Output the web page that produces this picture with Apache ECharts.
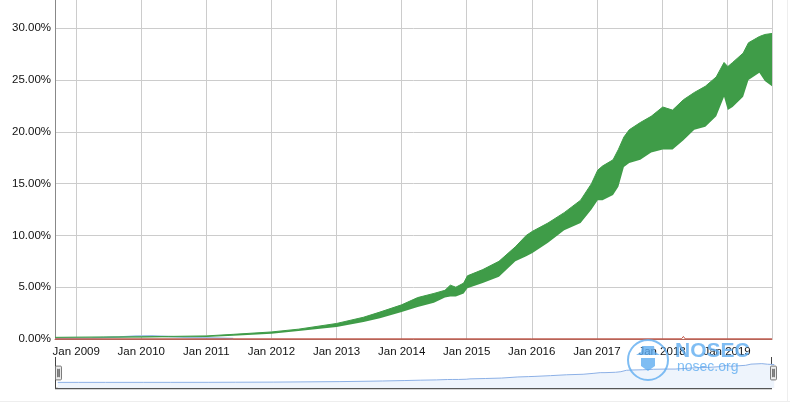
<!DOCTYPE html>
<html>
<head>
<meta charset="utf-8">
<script src="https://cdn.jsdelivr.net/npm/echarts@6/dist/echarts.min.js"></script>
<style>
html,body{margin:0;padding:0;background:#fff;}
#chart{width:790px;height:405px;}
</style>
</head>
<body>
<div id="chart"></div>
<script>
// Native IPv6 adoption band (percent)
const dates = ['2008-09-04','2009-01-01','2009-06-01','2010-01-01','2010-06-01','2011-01-01','2011-06-01','2012-01-01','2012-06-01','2013-01-01','2013-06-01','2013-09-01','2014-01-01','2014-04-01','2014-07-01','2014-09-01','2014-10-01','2014-11-01','2014-12-15','2015-01-05','2015-04-01','2015-07-01','2015-10-01','2015-12-01','2016-01-05','2016-04-01','2016-07-01','2016-10-01','2016-12-01','2017-01-05','2017-02-01','2017-04-01','2017-05-01','2017-06-01','2017-07-01','2017-09-01','2017-11-01','2018-01-05','2018-03-01','2018-05-01','2018-07-01','2018-09-01','2018-11-01','2018-12-15','2019-01-05','2019-02-01','2019-04-01','2019-05-01','2019-07-01','2019-08-01','2019-09-10'];
const nativeLow = [0.12,0.13,0.14,0.15,0.16,0.2,0.32,0.5,0.78,1.15,1.65,2.0,2.6,3.1,3.5,4.0,4.1,4.1,4.4,4.9,5.4,6.0,7.5,8.0,8.3,9.3,10.5,11.2,12.5,13.4,13.4,13.9,14.7,16.6,17.0,17.3,18.0,18.3,18.3,19.2,20.2,20.5,21.5,23.4,22.1,22.4,23.4,25.0,25.7,24.9,24.4];
const nativeHigh = [0.16,0.18,0.2,0.22,0.25,0.3,0.45,0.68,0.95,1.5,2.1,2.6,3.3,4.0,4.4,4.7,5.2,5.0,5.4,6.1,6.7,7.5,8.9,10.0,10.4,11.2,12.2,13.4,15.0,16.3,16.7,17.3,18.3,19.5,20.2,20.9,21.5,22.4,22.1,23.1,23.8,24.4,25.3,26.7,26.3,26.7,27.6,28.6,29.2,29.4,29.5];

// Blue (tunnelled) series
const blueDates = ['2008-09-04','2009-04-01','2009-09-01','2009-12-01','2010-03-01','2010-06-01','2010-10-01','2011-03-01','2011-06-01'];
const blueValues = [0.08,0.1,0.2,0.3,0.32,0.25,0.15,0.1,0.05];

// Red series
const redDates = ['2008-09-04','2012-01-01','2016-01-01','2018-04-20','2018-05-01','2018-05-10','2019-09-10'];
const redValues = [0.02,0.02,0.02,0.02,0.25,0.02,0.02];

const yTicks = [0,5,10,15,20,25,30];

const lowData = dates.map((d,i)=>[d, nativeLow[i]]);
const bandData = dates.map((d,i)=>[d, +(nativeHigh[i]-nativeLow[i]).toFixed(2)]);
const blueData = blueDates.map((d,i)=>[d, blueValues[i]]);
const redData = redDates.map((d,i)=>[d, redValues[i]]);

const GREEN = '#3f9c48';
const FONT = 'Liberation Sans, Arial, Helvetica, sans-serif';
const WM = 'rgba(95,172,240,0.8)';

const chart = echarts.init(document.getElementById('chart'), null, {renderer:'canvas'});
chart.setOption({
  animation:false,
  backgroundColor:'#ffffff',
  grid:{left:55,right:18,top:0,height:339,containLabel:false},
  xAxis:{
    type:'time',
    min:'2008-09-04',
    max:'2019-09-10',
    minInterval:365*24*3600*1000,
    maxInterval:366*24*3600*1000,
    axisLine:{show:true,lineStyle:{color:'#b4675b',width:1}},
    axisTick:{show:false},
    splitLine:{show:true,lineStyle:{color:'#cccccc',width:1}},
    axisLabel:{
      color:'#111',fontSize:11.5,fontFamily:FONT,margin:7,
      hideOverlap:false,
      formatter:function(v){const d=new Date(v);return d.getMonth()===0?('Jan '+d.getFullYear()):'';},
      rich:{}
    }
  },
  yAxis:{
    type:'value',
    min:0,max:32.73,interval:5,
    axisLine:{show:true,lineStyle:{color:'#888',width:1}},
    axisTick:{show:false},
    splitLine:{show:true,showMaxLine:false,lineStyle:{color:'#cccccc',width:1}},
    axisLabel:{color:'#111',fontSize:11.5,fontFamily:FONT,margin:4,showMaxLabel:false,
      formatter:function(v){return yTicks.indexOf(v)>=0 ? v.toFixed(2)+'%' : '';}}
  },
  dataZoom:[{
    type:'slider',xAxisIndex:0,filterMode:'none',
    left:55,right:18,top:358,height:30,
    start:0,end:100,
    borderColor:'transparent',backgroundColor:'transparent',
    fillerColor:'rgba(0,0,0,0)',
    showDetail:false,brushSelect:false,moveHandleSize:0,
    handleIcon:'path://M1,0 H5 Q6,0 6,1 V13 Q6,14 5,14 H1 Q0,14 0,13 V1 Q0,0 1,0 Z M2,3 H2.6 V11 H2 Z M3.4,3 H4 V11 H3.4 Z',
    handleSize:'46%',
    handleStyle:{color:'#eeeeee',borderColor:'#777',borderWidth:1},
    emphasis:{handleStyle:{color:'#eeeeee',borderColor:'#777'}},
    dataBackground:{lineStyle:{color:'#8cb0e6',width:1,opacity:1},areaStyle:{color:'#eef4fc',opacity:1}},
    selectedDataBackground:{lineStyle:{color:'#8cb0e6',width:1,opacity:1},areaStyle:{color:'#eef4fc',opacity:1}}
  }],
  series:[
    {name:'low',type:'line',stack:'native',data:lowData,symbol:'none',
     lineStyle:{width:0,opacity:0},silent:true,z:3},
    {name:'Native',type:'line',stack:'native',data:bandData,symbol:'none',
     lineStyle:{color:GREEN,width:1},areaStyle:{color:GREEN,opacity:1},z:3},
    {name:'Blue',type:'line',data:blueData,symbol:'none',lineStyle:{color:'#9dbde8',width:1.5},z:2},
    {name:'Red',type:'line',data:redData,symbol:'none',lineStyle:{color:'#c0584c',width:1},z:4}
  ],
  graphic:[
    {type:'line',shape:{x1:55.5,y1:357,x2:55.5,y2:388},style:{stroke:'#444',lineWidth:1},silent:true},
    {type:'line',shape:{x1:771.5,y1:357,x2:771.5,y2:388},style:{stroke:'#444',lineWidth:1},silent:true},
    {type:'line',shape:{x1:55,y1:388.5,x2:772,y2:388.5},style:{stroke:'#555',lineWidth:1.5},silent:true},
    {type:'line',shape:{x1:0,y1:401.5,x2:790,y2:401.5},style:{stroke:'#eeeeee',lineWidth:1},silent:true},
    {type:'line',shape:{x1:787.5,y1:0,x2:787.5,y2:402},style:{stroke:'#eeeeee',lineWidth:1},silent:true},
    {type:'circle',shape:{cx:648,cy:360,r:20},style:{fill:'rgba(255,255,255,0)',stroke:WM,lineWidth:2},silent:true,z:100},
    {type:'polygon',shape:{points:[[636,355],[660,355],[655,352],[654,346],[642,346],[641,352]]},style:{fill:WM},silent:true,z:100},
    {type:'polygon',shape:{points:[[641,358],[655,358],[655,366],[648,371],[641,366]]},style:{fill:WM},silent:true,z:100},
    {type:'text',left:675,top:341,style:{text:'NOSEC',fill:WM,font:'bold 21px '+FONT},silent:true,z:100},
    {type:'text',left:677,top:360,style:{text:'nosec.org',fill:WM,font:'14px '+FONT},silent:true,z:100}
  ]
});
</script>
</body>
</html>
